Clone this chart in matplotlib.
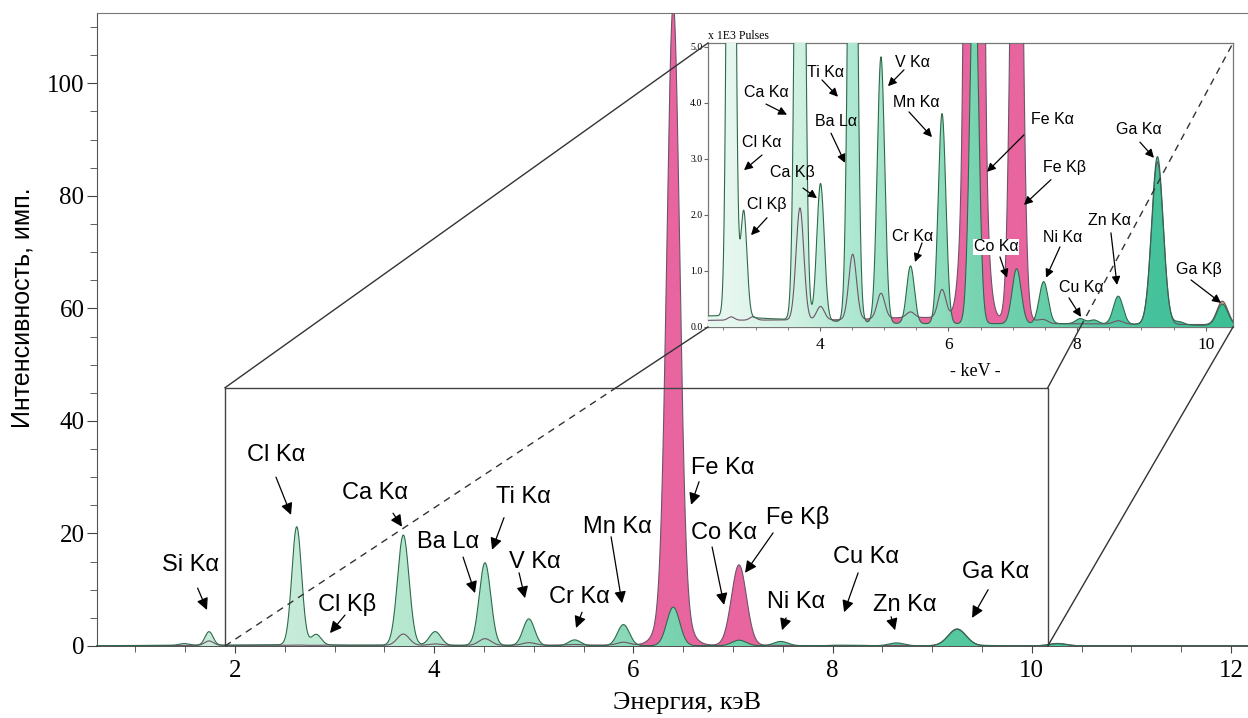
import numpy as np
import matplotlib
matplotlib.use("Agg")
import matplotlib.pyplot as plt
from matplotlib.colors import LinearSegmentedColormap
from matplotlib.lines import Line2D
from matplotlib.ticker import MultipleLocator, FormatStrFormatter

plt.rcParams['font.family'] = ['Liberation Serif', 'DejaVu Serif']
SANS = ['Liberation Sans', 'DejaVu Sans']

# peaks: energy (keV), height, width (sigma, keV)
green_energy = [1.49, 1.74, 2.62, 2.815, 3.69, 4.01, 4.51, 4.95, 5.41, 5.90,
                6.40, 7.06, 7.48, 8.05, 8.26, 8.64, 9.25, 9.58, 10.26]
green_height = [0.3, 2.4, 21.0, 1.9, 19.6, 2.45, 14.7, 4.75, 1.03, 3.75,
                6.85, 0.98, 0.75, 0.09, 0.07, 0.5, 3.0, 0.06, 0.38]
green_width = [0.05, 0.04, 0.049, 0.05, 0.058, 0.058, 0.058, 0.058, 0.06, 0.06,
               0.065, 0.07, 0.07, 0.07, 0.07, 0.075, 0.09, 0.08, 0.085]
green_bg_e = [0.6, 2.3, 2.5, 3.2, 4.3, 5.3, 8.0, 10.0, 12.2]
green_bg_v = [0.05, 0.2, 0.2, 0.15, 0.1, 0.06, 0.06, 0.03, 0.02]

# Fe K-alpha of this sample: narrow core plus a broad foot
pink_energy = [1.74, 2.62, 2.96, 3.69, 4.01, 4.51, 4.95, 5.41, 5.90,
               6.40, 6.40, 7.06, 7.48, 8.64, 9.25, 10.26]
pink_height = [0.8, 0.06, 0.06, 2.0, 0.24, 1.17, 0.45, 0.1, 0.5,
               106.0, 8.0, 14.3, 0.05, 0.06, 2.9, 0.42]
pink_width = [0.045, 0.05, 0.05, 0.06, 0.06, 0.06, 0.06, 0.06, 0.06,
              0.064, 0.12, 0.075, 0.07, 0.075, 0.09, 0.085]
pink_bg_e = [0.6, 2.3, 4.5, 5.3, 6.0, 7.3, 7.6, 10.4, 12.2]
pink_bg_v = [0.05, 0.12, 0.13, 0.17, 0.17, 0.12, 0.06, 0.04, 0.02]

# label text, text position, arrow start, arrow tip (keV, intensity)
main_labels = [
    ("Si Kα", (1.549, 14.4), (1.625, 10.3), (1.719, 6.4)),
    ("Cl Kα", (2.412, 34.0), (2.412, 30.0), (2.563, 23.3)),
    ("Ca Kα", (3.406, 27.2), (3.587, 23.6), (3.677, 21.2)),
    ("Cl Kβ", (3.125, 7.3), (3.105, 5.5), (2.954, 2.3)),
    ("Ti Kα", (4.892, 26.5), (4.701, 22.8), (4.581, 17.1)),
    ("Ba Lα", (4.139, 18.5), (4.290, 15.8), (4.410, 9.4)),
    ("V Kα", (5.013, 14.9), (4.852, 13.0), (4.912, 8.5)),
    ("Cr Kα", (5.454, 8.7), (5.484, 6.0), (5.424, 3.2)),
    ("Mn Kα", (5.836, 21.2), (5.776, 19.4), (5.886, 7.6)),
    ("Fe Kα", (6.900, 31.6), (6.659, 29.2), (6.579, 25.1)),
    ("Co Kα", (6.910, 20.1), (6.790, 17.6), (6.910, 7.3)),
    ("Fe Kβ", (7.653, 22.9), (7.402, 20.1), (7.121, 13.0)),
    ("Ni Kα", (7.633, 7.8), (7.533, 5.0), (7.492, 2.8)),
    ("Cu Kα", (8.336, 15.8), (8.256, 13.0), (8.115, 6.0)),
    ("Zn Kα", (8.727, 7.3), (8.587, 5.2), (8.627, 2.8)),
    ("Ga Kα", (9.641, 13.2), (9.561, 10.0), (9.400, 5.0)),
]
inset_labels = [
    ("Ca Kα", (3.162, 4.18), (3.162, 3.98), (3.489, 3.79)),
    ("Ti Kα", (4.095, 4.55), (4.033, 4.41), (4.282, 4.11)),
    ("V Kα", (5.433, 4.73), (5.308, 4.59), (5.059, 4.30)),
    ("Ba Lα", (4.251, 3.66), (4.173, 3.46), (4.391, 2.93)),
    ("Mn Kα", (5.495, 4.00), (5.386, 3.84), (5.744, 3.39)),
    ("Cl Kα", (3.100, 3.29), (3.100, 3.07), (2.820, 2.80)),
    ("Ca Kβ", (3.566, 2.75), (3.737, 2.48), (3.955, 2.30)),
    ("Cl Kβ", (3.178, 2.18), (3.178, 1.95), (2.929, 1.64)),
    ("Fe Kα", (7.610, 3.70), (7.174, 3.43), (6.599, 2.77)),
    ("Ga Kα", (8.963, 3.52), (8.978, 3.30), (9.196, 3.02)),
    ("Fe Kβ", (7.797, 2.84), (7.594, 2.63), (7.174, 2.18)),
    ("Cr Kα", (5.448, 1.61), (5.588, 1.50), (5.479, 1.16)),
    ("Co Kα", (6.739, 1.43), (6.801, 1.25), (6.910, 0.88)),
    ("Ni Kα", (7.781, 1.59), (7.734, 1.43), (7.517, 0.88)),
    ("Zn Kα", (8.496, 1.91), (8.527, 1.68), (8.621, 0.75)),
    ("Cu Kα", (8.061, 0.70), (7.874, 0.52), (8.061, 0.18)),
    ("Ga Kβ", (9.896, 1.02), (9.772, 0.84), (10.238, 0.43)),
]

# zoom frame in the main plot: x from, x to, top
ZOOM_BOX = (1.9, 10.16, 45.9)

energy = np.linspace(0.6, 12.2, 6000)


def spectrum(centres, heights, widths, bg_e, bg_v):
    y = np.interp(energy, bg_e, bg_v)
    for c, h, w in zip(centres, heights, widths):
        y = y + h * np.exp(-0.5 * ((energy - c) / w) ** 2)
    return y


green = spectrum(green_energy, green_height, green_width, green_bg_e, green_bg_v)
pink = spectrum(pink_energy, pink_height, pink_width, pink_bg_e, pink_bg_v)


def energy_cmap(nodes):
    e0, e1 = energy[0], energy[-1]
    return LinearSegmentedColormap.from_list(
        "e", [((e - e0) / (e1 - e0), c) for e, c in nodes])


green_cmap_main = energy_cmap([(0.6, "#cdeedd"), (2.6, "#c6ecd9"), (3.7, "#b6e8d0"),
                               (4.5, "#a6e2c8"), (5.9, "#8ad9b9"), (6.4, "#79d3b0"),
                               (9.3, "#55c8a0"), (10.4, "#45c29a"), (12.2, "#45c29a")])
green_cmap_inset = energy_cmap([(0.6, "#eaf8f1"), (2.6, "#e6f7ef"), (3.7, "#cdf0e1"),
                                (4.5, "#aee8d2"), (5.9, "#8ddcbd"), (6.4, "#79d4b2"),
                                (9.3, "#45c29b"), (10.4, "#3dbf95"), (12.2, "#3dbf95")])
pink_cmap = energy_cmap([(0.6, "#eaa27c"), (2.2, "#eca48e"), (3.2, "#e8659f"),
                         (9.7, "#e8659f"), (10.15, "#d8a56e"), (12.2, "#d8a56e")])


def gradient_fill(ax, y, cmap, zorder):
    poly = ax.fill_between(energy, 0, y, facecolor="none", edgecolor="none")
    clip = poly.get_paths()[0]
    grad = np.linspace(0, 1, 600).reshape(1, -1)
    im = ax.imshow(grad, cmap=cmap, aspect="auto", origin="lower",
                   extent=[energy[0], energy[-1], 0, y.max()],
                   zorder=zorder, interpolation="bilinear")
    im.set_clip_path(clip, transform=ax.transData)


def draw_spectra(ax, green_cmap):
    gradient_fill(ax, pink, pink_cmap, 2)
    gradient_fill(ax, green, green_cmap, 3)
    ax.plot(energy, pink, color="#6e5468", lw=0.8, zorder=4)
    ax.plot(energy, green, color="#2f6a4b", lw=0.8, zorder=4)


def draw_labels(ax, labels, size, head, boxed=()):
    for text, tpos, start, tip in labels:
        kw = {}
        if text in boxed:
            kw["bbox"] = dict(facecolor="white", edgecolor="none", pad=0.5)
        ax.text(*tpos, text, fontsize=size, family=SANS, ha="center",
                va="center", zorder=6, **kw)
        ax.annotate("", xy=tip, xytext=start, zorder=6,
                    arrowprops=dict(arrowstyle="-|>,head_length=0.5,head_width=0.25",
                                    color="black", lw=0.9, mutation_scale=head,
                                    shrinkA=0, shrinkB=0))


fig = plt.figure(figsize=(12.48, 7.18), dpi=100)
ax = fig.add_axes([97 / 1248, 1 - 646 / 718, 1 - 97 / 1248, 633 / 718])
draw_spectra(ax, green_cmap_main)
ax.set_xlim(0.615, 12.17)
ax.set_ylim(0, 112.5)
ax.xaxis.set_major_locator(MultipleLocator(2))
ax.xaxis.set_minor_locator(MultipleLocator(0.5))
ax.yaxis.set_major_locator(MultipleLocator(20))
ax.yaxis.set_minor_locator(MultipleLocator(5))
ax.tick_params(axis="both", which="major", labelsize=18, color="#444")
ax.tick_params(axis="y", which="major", length=7, pad=2)
ax.tick_params(axis="y", which="minor", length=5, color="#444")
ax.tick_params(axis="x", which="major", length=5, pad=5)
ax.tick_params(axis="x", which="minor", length=4, color="#444")
ax.spines["right"].set_visible(False)
ax.spines["top"].set_color("#777")
ax.spines["left"].set_color("#555")
ax.spines["bottom"].set_color("#333")
ax.spines["bottom"].set_linewidth(1.2)

ax.set_xlabel("Энергия, кэВ", fontsize=19)
ax.xaxis.label.set_verticalalignment("center")
ax.xaxis.set_label_coords(0.5126, -0.090)
ax.set_ylabel("Интенсивность, имп.", fontsize=18, family=SANS)
ax.yaxis.set_label_coords(-0.0545, 0.534)

x0, x1, top = ZOOM_BOX
ax.plot([x0, x0, x1, x1], [0, top, top, 0], color="#444", lw=1.0, zorder=5)
draw_labels(ax, main_labels, 17, 14)

# inset with the zoomed spectrum
axin = fig.add_axes([708 / 1248, 1 - 327 / 718, 525 / 1248, 284 / 718])
axin.set_facecolor("white")
draw_spectra(axin, green_cmap_inset)
axin.set_xlim(2.26, 10.425)
axin.set_ylim(0, 5.07)
axin.xaxis.set_major_locator(MultipleLocator(2))
axin.xaxis.set_minor_locator(MultipleLocator(0.5))
axin.yaxis.set_major_locator(MultipleLocator(1))
axin.yaxis.set_major_formatter(FormatStrFormatter("%.1f"))
axin.tick_params(axis="x", labelsize=12.5, length=3, pad=4, color="#666")
axin.tick_params(axis="x", which="minor", length=2, color="#666")
axin.tick_params(axis="y", labelsize=7, length=3, pad=1, color="#666")
for s in axin.spines.values():
    s.set_color("#777")
    s.set_linewidth(0.9)
draw_labels(axin, inset_labels, 11.5, 10, boxed=("Co Kα",))

fig.text(708 / 1248, 1 - 36 / 718, "x 1E3 Pulses", fontsize=8.5, ha="left", va="center")
fig.text(975 / 1248, 1 - 372 / 718, "- keV -", fontsize=13, ha="center", va="center")

# edges of the zoom "box" joining the frame to the inset
to_fig = fig.transFigure.inverted()


def main_pt(x, y):
    return to_fig.transform(ax.transData.transform((x, y)))


def inset_pt(fx, fy):
    return to_fig.transform(axin.transAxes.transform((fx, fy)))


def split(p, q, y_cut):
    t = (y_cut - p[1]) / (q[1] - p[1])
    return p + t * (q - p)


def seg(p, q, style="-"):
    fig.add_artist(Line2D([p[0], q[0]], [p[1], q[1]], color="#333", lw=1.0,
                          linestyle=style, transform=fig.transFigure, zorder=3))


tl, tr = main_pt(x0, top), main_pt(x1, top)
bl, br = main_pt(x0, 0), main_pt(x1, 0)
itl, itr, ibl, ibr = inset_pt(0, 1), inset_pt(1, 1), inset_pt(0, 0), inset_pt(1, 0)

seg(tl, itl)
m = split(tr, itr, ibr[1])
seg(tr, m)
seg(m, itr, (0, (5, 4)))
m = split(bl, ibl, tl[1])
seg(bl, m, (0, (5, 4)))
seg(m, ibl)
seg(br, ibr)

fig.savefig("out.png", dpi=100)
